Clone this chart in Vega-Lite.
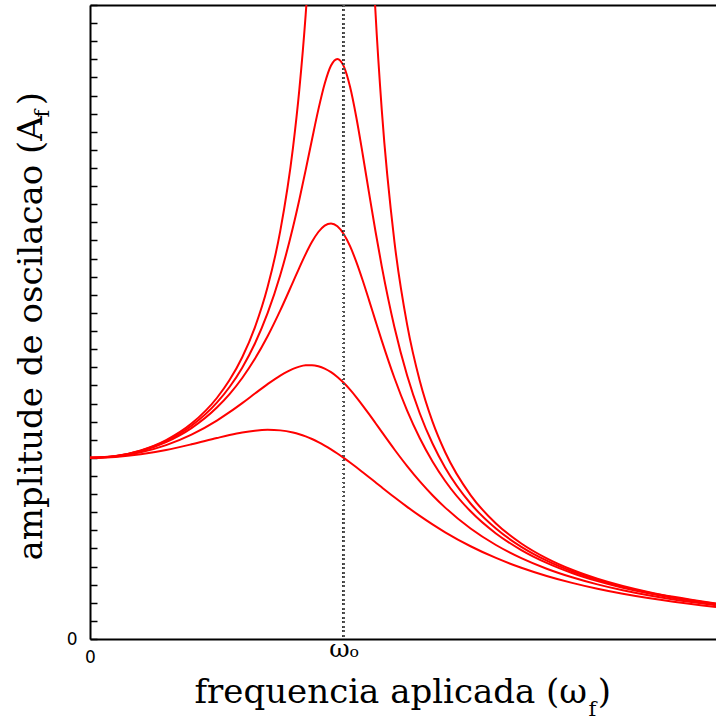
{
  "$schema": "https://vega.github.io/schema/vega-lite/v6.json",
  "width": 626,
  "height": 634,
  "autosize": {"type": "none"},
  "padding": {"left": 90, "top": 5, "right": 0, "bottom": 82},
  "background": "white",
  "config": {"view": {"stroke": null}, "axis": {"grid": false}},
  "datasets": {
    "curves": [
      {"w":0,"g":"g1","A":10},{"w":0.1,"g":"g1","A":10.050},{"w":0.2,"g":"g1","A":10.198},{"w":0.3,"g":"g1","A":10.436},{"w":0.4,"g":"g1","A":10.748},{"w":0.5,"g":"g1","A":11.094},{"w":0.55,"g":"g1","A":11.258},{"w":0.6,"g":"g1","A":11.399},{"w":0.65,"g":"g1","A":11.501},{"w":0.7,"g":"g1","A":11.546},{"w":0.75,"g":"g1","A":11.517},{"w":0.8,"g":"g1","A":11.399},{"w":0.825,"g":"g1","A":11.304},{"w":0.85,"g":"g1","A":11.184},{"w":0.875,"g":"g1","A":11.039},{"w":0.9,"g":"g1","A":10.872},{"w":0.925,"g":"g1","A":10.681},{"w":0.95,"g":"g1","A":10.471},{"w":0.975,"g":"g1","A":10.243},{"w":1.0,"g":"g1","A":10},{"w":1.025,"g":"g1","A":9.744},{"w":1.05,"g":"g1","A":9.479},{"w":1.075,"g":"g1","A":9.206},{"w":1.1,"g":"g1","A":8.930},{"w":1.125,"g":"g1","A":8.651},{"w":1.15,"g":"g1","A":8.373},{"w":1.2,"g":"g1","A":7.824},{"w":1.25,"g":"g1","A":7.295},{"w":1.3,"g":"g1","A":6.795},{"w":1.35,"g":"g1","A":6.326},{"w":1.4,"g":"g1","A":5.891},{"w":1.5,"g":"g1","A":5.121},{"w":1.6,"g":"g1","A":4.475},{"w":1.7,"g":"g1","A":3.934},{"w":1.8,"g":"g1","A":3.480},{"w":1.9,"g":"g1","A":3.098},{"w":2.0,"g":"g1","A":2.774},{"w":2.1,"g":"g1","A":2.497},{"w":2.2,"g":"g1","A":2.260},{"w":2.3,"g":"g1","A":2.054},{"w":2.4674,"g":"g1","A":1.768},
      {"w":0,"g":"g2","A":10},{"w":0.1,"g":"g2","A":10.075},{"w":0.2,"g":"g2","A":10.305},{"w":0.3,"g":"g2","A":10.702},{"w":0.4,"g":"g2","A":11.282},{"w":0.5,"g":"g2","A":12.060},{"w":0.55,"g":"g2","A":12.522},{"w":0.6,"g":"g2","A":13.023},{"w":0.65,"g":"g2","A":13.549},{"w":0.7,"g":"g2","A":14.071},{"w":0.75,"g":"g2","A":14.545},{"w":0.8,"g":"g2","A":14.914},{"w":0.825,"g":"g2","A":15.036},{"w":0.85,"g":"g2","A":15.106},{"w":0.875,"g":"g2","A":15.115},{"w":0.9,"g":"g2","A":15.057},{"w":0.925,"g":"g2","A":14.929},{"w":0.95,"g":"g2","A":14.732},{"w":0.975,"g":"g2","A":14.468},{"w":1.0,"g":"g2","A":14.142},{"w":1.025,"g":"g2","A":13.764},{"w":1.05,"g":"g2","A":13.342},{"w":1.075,"g":"g2","A":12.888},{"w":1.1,"g":"g2","A":12.412},{"w":1.125,"g":"g2","A":11.924},{"w":1.15,"g":"g2","A":11.431},{"w":1.2,"g":"g2","A":10.462},{"w":1.25,"g":"g2","A":9.545},{"w":1.3,"g":"g2","A":8.700},{"w":1.35,"g":"g2","A":7.936},{"w":1.4,"g":"g2","A":7.252},{"w":1.5,"g":"g2","A":6.100},{"w":1.6,"g":"g2","A":5.189},{"w":1.7,"g":"g2","A":4.465},{"w":1.8,"g":"g2","A":3.881},{"w":1.9,"g":"g2","A":3.407},{"w":2.0,"g":"g2","A":3.015},{"w":2.1,"g":"g2","A":2.689},{"w":2.2,"g":"g2","A":2.414},{"w":2.3,"g":"g2","A":2.180},{"w":2.4674,"g":"g2","A":1.859},
      {"w":0,"g":"g3","A":10},{"w":0.1,"g":"g3","A":10.091},{"w":0.2,"g":"g3","A":10.372},{"w":0.3,"g":"g3","A":10.872},{"w":0.4,"g":"g3","A":11.644},{"w":0.5,"g":"g3","A":12.778},{"w":0.55,"g":"g3","A":13.521},{"w":0.6,"g":"g3","A":14.410},{"w":0.65,"g":"g3","A":15.467},{"w":0.7,"g":"g3","A":16.711},{"w":0.75,"g":"g3","A":18.140},{"w":0.8,"g":"g3","A":19.703},{"w":0.825,"g":"g3","A":20.493},{"w":0.85,"g":"g3","A":21.247},{"w":0.875,"g":"g3","A":21.924},{"w":0.9,"g":"g3","A":22.468},{"w":0.925,"g":"g3","A":22.824},{"w":0.95,"g":"g3","A":22.941},{"w":0.975,"g":"g3","A":22.789},{"w":1.0,"g":"g3","A":22.361},{"w":1.025,"g":"g3","A":21.684},{"w":1.05,"g":"g3","A":20.806},{"w":1.075,"g":"g3","A":19.790},{"w":1.1,"g":"g3","A":18.696},{"w":1.125,"g":"g3","A":17.577},{"w":1.15,"g":"g3","A":16.473},{"w":1.2,"g":"g3","A":14.410},{"w":1.25,"g":"g3","A":12.610},{"w":1.3,"g":"g3","A":11.083},{"w":1.35,"g":"g3","A":9.801},{"w":1.4,"g":"g3","A":8.725},{"w":1.5,"g":"g3","A":7.049},{"w":1.6,"g":"g3","A":5.827},{"w":1.7,"g":"g3","A":4.909},{"w":1.8,"g":"g3","A":4.201},{"w":1.9,"g":"g3","A":3.643},{"w":2.0,"g":"g3","A":3.194},{"w":2.1,"g":"g3","A":2.827},{"w":2.2,"g":"g3","A":2.523},{"w":2.3,"g":"g3","A":2.267},{"w":2.4674,"g":"g3","A":1.921},
      {"w":0,"g":"g4","A":10},{"w":0.1,"g":"g4","A":10.096},{"w":0.2,"g":"g4","A":10.394},{"w":0.3,"g":"g4","A":10.930},{"w":0.4,"g":"g4","A":11.772},{"w":0.5,"g":"g4","A":13.047},{"w":0.55,"g":"g4","A":13.911},{"w":0.6,"g":"g4","A":14.981},{"w":0.65,"g":"g4","A":16.314},{"w":0.7,"g":"g4","A":17.987},{"w":0.75,"g":"g4","A":20.094},{"w":0.8,"g":"g4","A":22.727},{"w":0.825,"g":"g4","A":24.249},{"w":0.85,"g":"g4","A":25.884},{"w":0.875,"g":"g4","A":27.577},{"w":0.9,"g":"g4","A":29.223},{"w":0.925,"g":"g4","A":30.655},{"w":0.95,"g":"g4","A":31.661},{"w":0.975,"g":"g4","A":32.025},{"w":1.0,"g":"g4","A":31.623},{"w":1.025,"g":"g4","A":30.481},{"w":1.05,"g":"g4","A":28.777},{"w":1.075,"g":"g4","A":26.747},{"w":1.1,"g":"g4","A":24.611},{"w":1.125,"g":"g4","A":22.523},{"w":1.15,"g":"g4","A":20.573},{"w":1.2,"g":"g4","A":17.211},{"w":1.25,"g":"g4","A":14.545},{"w":1.3,"g":"g4","A":12.450},{"w":1.35,"g":"g4","A":10.791},{"w":1.4,"g":"g4","A":9.459},{"w":1.5,"g":"g4","A":7.480},{"w":1.6,"g":"g4","A":6.098},{"w":1.7,"g":"g4","A":5.089},{"w":1.8,"g":"g4","A":4.327},{"w":1.9,"g":"g4","A":3.734},{"w":2.0,"g":"g4","A":3.262},{"w":2.1,"g":"g4","A":2.878},{"w":2.2,"g":"g4","A":2.562},{"w":2.3,"g":"g4","A":2.298},{"w":2.4674,"g":"g4","A":1.943},
      {"w":0,"g":"g5","A":10},{"w":0.1,"g":"g5","A":10.100},{"w":0.2,"g":"g5","A":10.414},{"w":0.3,"g":"g5","A":10.983},{"w":0.4,"g":"g5","A":11.891},{"w":0.5,"g":"g5","A":13.304},{"w":0.55,"g":"g5","A":14.293},{"w":0.6,"g":"g5","A":15.557},{"w":0.65,"g":"g5","A":17.207},{"w":0.7,"g":"g5","A":19.426},{"w":0.75,"g":"g5","A":22.528},{"w":0.8,"g":"g5","A":27.116},{"w":0.825,"g":"g5","A":30.316},{"w":0.85,"g":"g5","A":34.456},{"w":0.875,"g":"g5","A":39.971},{"w":0.9,"g":"g5","A":47.565},{"w":0.925,"g":"g5","A":58.32},{"w":0.95,"g":"g5","A":73.46},{"w":0.975,"g":"g5","A":91.50},{"w":1.0,"g":"g5","A":100},{"w":1.025,"g":"g5","A":87.47},{"w":1.05,"g":"g5","A":68.15},{"w":1.075,"g":"g5","A":52.87},{"w":1.1,"g":"g5","A":42.18},{"w":1.125,"g":"g5","A":34.666},{"w":1.15,"g":"g5","A":29.207},{"w":1.2,"g":"g5","A":21.926},{"w":1.25,"g":"g5","A":17.354},{"w":1.3,"g":"g5","A":14.242},{"w":1.35,"g":"g5","A":11.997},{"w":1.4,"g":"g5","A":10.308},{"w":1.5,"g":"g5","A":7.943},{"w":1.6,"g":"g5","A":6.377},{"w":1.7,"g":"g5","A":5.270},{"w":1.8,"g":"g5","A":4.450},{"w":1.9,"g":"g5","A":3.821},{"w":2.0,"g":"g5","A":3.326},{"w":2.1,"g":"g5","A":2.927},{"w":2.2,"g":"g5","A":2.600},{"w":2.3,"g":"g5","A":2.328},{"w":2.4674,"g":"g5","A":1.963}
    ]
  },
  "data": {"name": "curves"},
  "layer": [
    {
      "mark": {"type": "line", "color": "#ff0000", "strokeWidth": 2, "clip": true, "interpolate": "monotone"},
      "encoding": {
        "x": {
          "field": "w", "type": "quantitative",
          "scale": {"domain": [0, 2.4674], "nice": false, "zero": false},
          "axis": {
            "orient": "bottom", "values": [0, 1],
            "labelExpr": "datum.value == 0 ? '0' : 'ωₒ'",
            "ticks": false, "domainColor": "black", "domainWidth": 2,
            "labelColor": "black",
            "labelFont": {"condition": {"test": "datum.value == 0", "value": "DejaVu Sans"}, "value": "DejaVu Serif"},
            "labelFontSize": {"condition": {"test": "datum.value == 0", "value": 17}, "value": 25},
            "labelPadding": {"condition": {"test": "datum.value == 0", "value": 10}, "value": -3},
            "labelBaseline": "top", "labelFlush": false, "labelOverlap": false,
            "title": "frequencia aplicada (ω  )",
            "titleFont": "DejaVu Serif", "titleFontSize": 34, "titleFontWeight": "normal", "titleColor": "black",
            "titleAlign": "left", "titleBaseline": "alphabetic", "titleX": 104, "titleY": 63
          }
        },
        "y": {
          "field": "A", "type": "quantitative",
          "scale": {"domain": [0, 35], "nice": false},
          "axis": {
            "orient": "left",
            "values": [0,1,2,3,4,5,6,7,8,9,10,11,12,13,14,15,16,17,18,19,20,21,22,23,24,25,26,27,28,29,30,31,32,33,34,35],
            "labelExpr": "datum.value == 0 ? '0' : ''",
            "tickSize": -7, "tickWidth": 1.5, "tickColor": "black",
            "domainColor": "black", "domainWidth": 2,
            "labelFont": "DejaVu Sans", "labelFontSize": 17, "labelColor": "black",
            "labelPadding": 20, "labelBaseline": "middle", "labelFlush": false, "labelOverlap": false,
            "title": "amplitude de oscilacao (A  )",
            "titleFont": "DejaVu Serif", "titleFontSize": 34, "titleFontWeight": "normal", "titleColor": "black",
            "titleAngle": -90, "titleAlign": "left", "titleBaseline": "alphabetic", "titleX": -49, "titleY": 555
          }
        },
        "detail": {"field": "g", "type": "nominal"}
      }
    },
    {
      "mark": {"type": "rule", "color": "#555555", "strokeWidth": 1.5, "strokeDash": [1.5, 3]},
      "encoding": {
        "x": {
          "datum": 1, "type": "quantitative",
          "axis": {"orient": "top", "domain": true, "domainWidth": 2, "domainColor": "black", "ticks": false, "labels": false, "title": null}
        }
      }
    },
    {
      "mark": {"type": "point", "opacity": 0},
      "encoding": {
        "x": {
          "field": "w", "type": "quantitative",
          "axis": {
            "orient": "bottom", "domain": false, "ticks": false, "labels": false,
            "title": "f", "titleFont": "DejaVu Serif", "titleFontSize": 21, "titleFontWeight": "normal", "titleColor": "black",
            "titleAlign": "left", "titleBaseline": "alphabetic", "titleX": 498, "titleY": 76
          }
        },
        "y": {
          "field": "A", "type": "quantitative",
          "axis": {
            "orient": "left", "domain": false, "ticks": false, "labels": false,
            "title": "f", "titleFont": "DejaVu Serif", "titleFontSize": 21, "titleFontWeight": "normal", "titleColor": "black",
            "titleAngle": -90, "titleAlign": "left", "titleBaseline": "alphabetic", "titleX": -42, "titleY": 112
          }
        }
      }
    }
  ],
  "resolve": {"axis": {"x": "independent", "y": "independent"}}
}
